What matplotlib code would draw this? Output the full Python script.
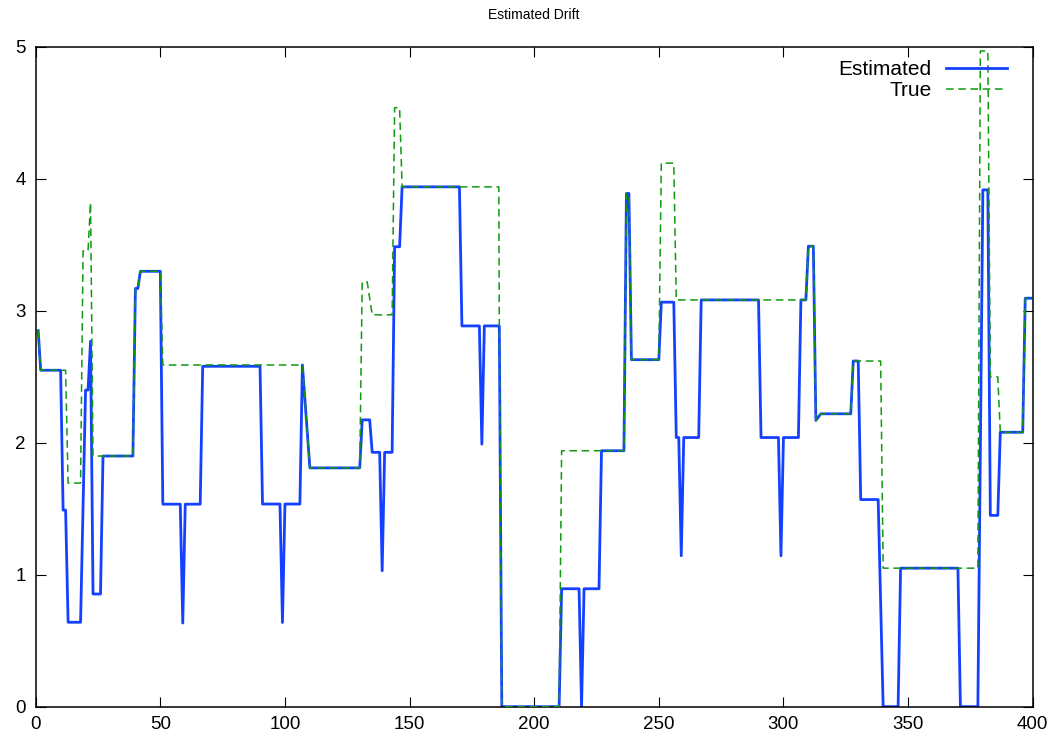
import matplotlib
matplotlib.use("Agg")
import matplotlib.pyplot as plt

plt.rcParams['font.family'] = ['Liberation Sans', 'DejaVu Sans']

title = "Estimated Drift"
series_labels = ["Estimated", "True"]
x_ticks = [0, 50, 100, 150, 200, 250, 300, 350, 400]
y_ticks = [0, 1, 2, 3, 4, 5]

est_x = [1, 2, 10, 11, 12, 13, 18, 20, 21, 22, 23, 26, 27, 39, 40, 41, 42, 50, 51, 58, 59, 60,
         66, 67, 90, 91, 98, 99, 100, 106, 107, 110, 130, 131, 134, 135, 138, 139, 140, 143,
         144, 146, 147, 170, 171, 178, 179, 180, 186, 187, 210, 211, 218, 219, 220, 226, 227,
         236, 237, 238, 239, 250, 251, 256, 257, 258, 259, 260, 266, 267, 290, 291, 298, 299,
         300, 306, 307, 309, 310, 312, 313, 315, 327, 328, 330, 331, 338, 340, 346, 347, 370,
         371, 378, 380, 382, 383, 386, 387, 396, 397, 400]
est_y = [2.85, 2.55, 2.55, 1.49, 1.49, 0.64, 0.64, 2.40, 2.40, 2.77, 0.854, 0.854, 1.90, 1.90,
         3.17, 3.17, 3.30, 3.30, 1.535, 1.535, 0.634, 1.535,
         1.535, 2.58, 2.58, 1.536, 1.536, 0.638, 1.536, 1.536, 2.59, 1.81, 1.81, 2.174, 2.174,
         1.928, 1.928, 1.03, 1.928, 1.928,
         3.486, 3.486, 3.94, 3.94, 2.886, 2.886, 1.99, 2.886, 2.886, 0.0, 0.0, 0.894, 0.894, 0.0,
         0.894, 0.894, 1.94,
         1.94, 3.89, 3.89, 2.63, 2.63, 3.066, 3.066, 2.04, 2.04, 1.144, 2.04, 2.04, 3.083, 3.083,
         2.04, 2.04, 1.144,
         2.04, 2.04, 3.083, 3.083, 3.49, 3.49, 2.17, 2.22, 2.22, 2.62, 2.62, 1.57, 1.57, 0.0, 0.0,
         1.05, 1.05,
         0.0, 0.0, 3.917, 3.917, 1.45, 1.45, 2.08, 2.08, 3.096, 3.096]

true_x = [1, 2, 12, 13, 18, 19, 21, 22, 23, 39, 40, 41, 42, 50, 51, 107, 110, 130, 131, 133,
          135, 143, 144, 146, 147, 185.8, 186, 187, 210, 211, 236, 237, 238, 239, 250, 251,
          256, 257, 309, 310, 312, 313, 315, 327, 328, 339, 340, 378, 379, 382, 383, 386, 387,
          396, 397, 400]
true_y = [2.85, 2.55, 2.55, 1.695, 1.695, 3.455, 3.455, 3.82, 1.90, 1.90, 3.17, 3.17, 3.30,
          3.30, 2.59, 2.59, 1.81, 1.81, 3.22, 3.22,
          2.97, 2.97, 4.54, 4.54, 3.94, 3.94, 2.886, 0.0, 0.0, 1.94, 1.94, 3.89, 3.89, 2.63,
          2.63, 4.12,
          4.12, 3.083, 3.083, 3.49, 3.49, 2.17, 2.22, 2.22, 2.62, 2.62, 1.05, 1.05, 4.97, 4.97,
          2.50, 2.50, 2.08,
          2.08, 3.096, 3.096]

W, H = 1058, 744
fig = plt.figure(figsize=(W / 100, H / 100), dpi=100)
ax = fig.add_axes([35.7 / W, (H - 706.7) / H, (1032.7 - 35.7) / W, (706.7 - 47) / H])

ax.plot(est_x, est_y, color='#1440ff', lw=2.0, label=series_labels[0], zorder=2)
ax.plot(true_x, true_y, color='#119911', lw=1.1, ls=(0, (5, 3)), label=series_labels[1], zorder=3)

ax.set_xlim(0, 400)
ax.set_ylim(0, 5)
ax.set_xticks(x_ticks)
ax.set_yticks(y_ticks)
ax.tick_params(direction='in', length=7, width=0.8, top=True, right=True,
               labelsize=13.5, pad=7, colors='black')
for s in ax.spines.values():
    s.set_linewidth(1.1)

ax.set_title(title, fontsize=10, pad=20)

leg = ax.legend(loc='upper right', frameon=False, markerfirst=False, fontsize=15,
                handlelength=2.9, handletextpad=0.7, labelspacing=0.12,
                borderpad=0, borderaxespad=0,
                bbox_to_anchor=(1006.7 / W, (H - 60) / H), bbox_transform=fig.transFigure)

fig.savefig('out.png', dpi=100)
